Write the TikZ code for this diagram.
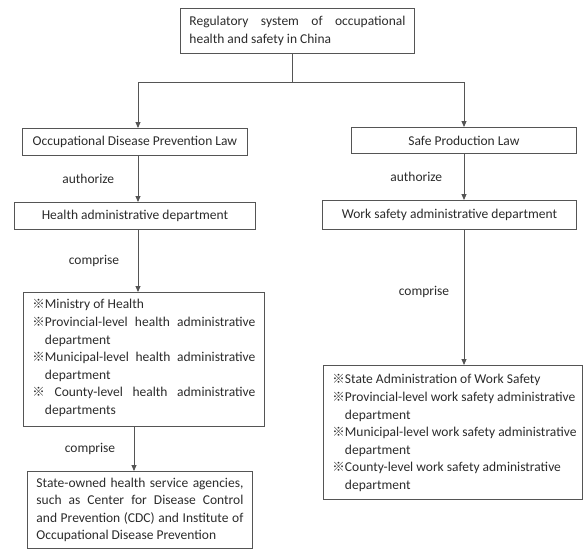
\documentclass[tikz,border=0pt]{standalone}
\usepackage{fontspec}
\setmainfont{Carlito}
\newfontfamily\cjk{Noto Sans CJK SC}
\usepackage{tikz}
\usetikzlibrary{arrows.meta}
\definecolor{linegray}{HTML}{555555}
\definecolor{textgray}{HTML}{2B2B2B}
\newcommand{\bodyfont}{\fontsize{13.5}{17.6}\selectfont}
\newcommand{\refmark}{{\cjk\fontsize{12.5}{17.6}\selectfont ※}}
\newcommand{\entry}[1]{\par\hangindent=12.5pt\hangafter=1\noindent\refmark#1\par}

\begin{document}
\begin{tikzpicture}
      [x=1pt,y=-1pt,
       main box/.style={draw=linegray,line width=0.9pt,text=textgray,font=\bodyfont,
         inner xsep=9pt,inner ysep=4pt,anchor=north west},
       list box/.style={main box,inner ysep=7pt},
       link/.style={draw=linegray,line width=0.9pt},
       arrow/.style={link,-{Triangle[length=6pt,width=5pt]}},
       rel/.style={text=textgray,font=\bodyfont}]
        \useasboundingbox (0,0) rectangle (587,550);

        \node[main box,text width=216pt,minimum height=45pt,align=justify] (sys) at (180,8)
          {Regulatory system of occupational\linebreak health and safety in China};

        \node[main box,minimum width=225pt,minimum height=27pt] (odpl) at (22,128) {Occupational Disease Prevention Law};
        \node[main box,minimum width=241pt,minimum height=27pt] (health) at (14,202) {Health administrative department};
        \node[list box] (moh) at (23,292)
          {\parbox[t][120pt][t]{223pt}{%
            \entry{Ministry of Health}%
            \entry{Provincial-level health administrative\linebreak department}%
            \entry{Municipal-level health administrative\linebreak department}%
            \entry{ County-level health administrative\linebreak departments}}};
        \node[main box,text width=207pt,minimum height=77pt,align=justify] (cdc) at (27,471)
          {State-owned health service agencies,\linebreak such as Center for Disease Control\linebreak and Prevention (CDC) and Institute of\linebreak Occupational Disease Prevention};

        \node[main box,minimum width=225pt,minimum height=26pt] (spl) at (351,127) {Safe Production Law};
        \node[main box,minimum width=254pt,minimum height=29pt] (work) at (322,200) {Work safety administrative department};
        \node[list box,inner ysep=9pt] (saws) at (323,365)
          {\parbox[t][116pt][t]{241pt}{\raggedright
            \entry{State Administration of Work Safety}%
            \entry{\mbox{Provincial-level work safety administrative}\newline department}%
            \entry{\mbox{Municipal-level work safety administrative}\newline department}%
            \entry{\mbox{County-level work safety administrative}\newline department}}};

        \coordinate (split) at (292,82);
        \coordinate (lcol) at (138,0);
        \coordinate (lcol2) at (134,0);
        \coordinate (rcol) at (464,0);

        \draw[link] (sys.south -| split) -- (split);
        \draw[arrow] (split) -| (odpl.north -| lcol);
        \draw[arrow] (split) -| (spl.north -| rcol);

        \draw[arrow] (odpl.south -| lcol) -- node[rel,left=20pt] {authorize} (health.north -| lcol);
        \draw[arrow] (health.south -| lcol) -- node[rel,left=15pt] {comprise} (moh.north -| lcol);
        \draw[arrow] (moh.south -| lcol2) -- node[rel,left=15pt] {comprise} (cdc.north -| lcol2);

        \draw[arrow] (spl.south -| rcol) -- node[rel,left=18pt] {authorize} (work.north -| rcol);
        \draw[arrow] (work.south -| rcol) -- node[rel,left=11pt,pos=0.46] {comprise} (saws.north -| rcol);

      \end{tikzpicture}
\end{document}
